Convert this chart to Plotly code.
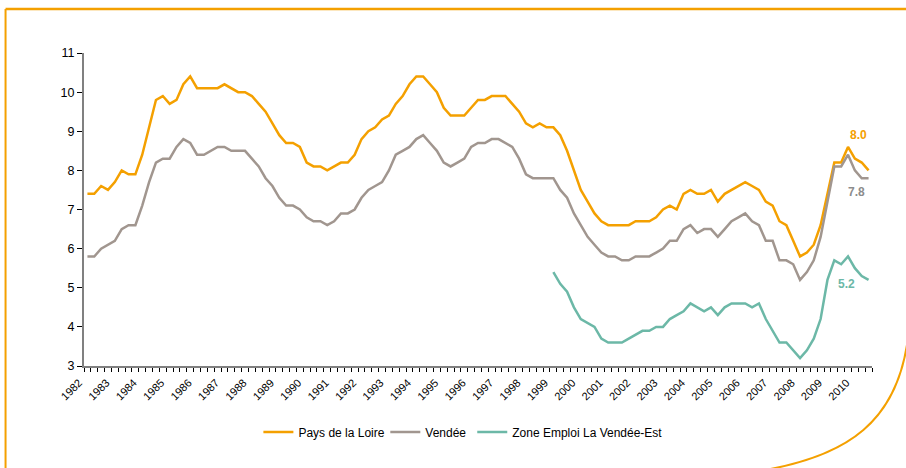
import plotly.graph_objects as go

years = [str(y) for y in range(1982, 2011)]

pays_de_la_loire = [
    7.4, 7.4, 7.6, 7.5, 7.7, 8.0, 7.9, 7.9, 8.4, 9.1, 9.8, 9.9,
    9.7, 9.8, 10.2, 10.4, 10.1, 10.1, 10.1, 10.1, 10.2, 10.1, 10.0, 10.0,
    9.9, 9.7, 9.5, 9.2, 8.9, 8.7, 8.7, 8.6, 8.2, 8.1, 8.1, 8.0,
    8.1, 8.2, 8.2, 8.4, 8.8, 9.0, 9.1, 9.3, 9.4, 9.7, 9.9, 10.2,
    10.4, 10.4, 10.2, 10.0, 9.6, 9.4, 9.4, 9.4, 9.6, 9.8, 9.8, 9.9,
    9.9, 9.9, 9.7, 9.5, 9.2, 9.1, 9.2, 9.1, 9.1, 8.9, 8.5, 8.0,
    7.5, 7.2, 6.9, 6.7, 6.6, 6.6, 6.6, 6.6, 6.7, 6.7, 6.7, 6.8,
    7.0, 7.1, 7.0, 7.4, 7.5, 7.4, 7.4, 7.5, 7.2, 7.4, 7.5, 7.6,
    7.7, 7.6, 7.5, 7.2, 7.1, 6.7, 6.6, 6.2, 5.8, 5.9, 6.1, 6.6,
    7.4, 8.2, 8.2, 8.6, 8.3, 8.2, 8.0,
]

vendee = [
    5.8, 5.8, 6.0, 6.1, 6.2, 6.5, 6.6, 6.6, 7.1, 7.7, 8.2, 8.3,
    8.3, 8.6, 8.8, 8.7, 8.4, 8.4, 8.5, 8.6, 8.6, 8.5, 8.5, 8.5,
    8.3, 8.1, 7.8, 7.6, 7.3, 7.1, 7.1, 7.0, 6.8, 6.7, 6.7, 6.6,
    6.7, 6.9, 6.9, 7.0, 7.3, 7.5, 7.6, 7.7, 8.0, 8.4, 8.5, 8.6,
    8.8, 8.9, 8.7, 8.5, 8.2, 8.1, 8.2, 8.3, 8.6, 8.7, 8.7, 8.8,
    8.8, 8.7, 8.6, 8.3, 7.9, 7.8, 7.8, 7.8, 7.8, 7.5, 7.3, 6.9,
    6.6, 6.3, 6.1, 5.9, 5.8, 5.8, 5.7, 5.7, 5.8, 5.8, 5.8, 5.9,
    6.0, 6.2, 6.2, 6.5, 6.6, 6.4, 6.5, 6.5, 6.3, 6.5, 6.7, 6.8,
    6.9, 6.7, 6.6, 6.2, 6.2, 5.7, 5.7, 5.6, 5.2, 5.4, 5.7, 6.3,
    7.2, 8.1, 8.1, 8.4, 8.0, 7.8, 7.8,
]

zone_vendee_est = [None] * 68 + [
    5.4, 5.1, 4.9, 4.5, 4.2, 4.1, 4.0, 3.7, 3.6, 3.6, 3.6, 3.7,
    3.8, 3.9, 3.9, 4.0, 4.0, 4.2, 4.3, 4.4, 4.6, 4.5, 4.4, 4.5,
    4.3, 4.5, 4.6, 4.6, 4.6, 4.5, 4.6, 4.2, 3.9, 3.6, 3.6, 3.4,
    3.2, 3.4, 3.7, 4.2, 5.2, 5.7, 5.6, 5.8, 5.5, 5.3, 5.2,
]

series_names = ["Pays de la Loire", "Vendée", "Zone Emploi La Vendée-Est"]
colors = ["#F4A000", "#A1968F", "#6CB8A7"]
label_colors = ["#F4A000", "#8C8C8C", "#6CB8A7"]
legend_ids = ["legend", "legend2", "legend3"]

n = len(pays_de_la_loire)
xs = list(range(n))

fig = go.Figure()
for name, ys, c, lg in zip(series_names, [pays_de_la_loire, vendee, zone_vendee_est], colors, legend_ids):
    fig.add_trace(go.Scatter(x=xs, y=ys, mode="lines", name=name, legend=lg,
                             line=dict(color=c, width=2.5), connectgaps=False))

# tick marks at every quarter boundary, year labels every 4
tickvals = [k - 0.5 for k in range(n + 1)]
ticktext = [""] * (n + 1)
for j, yr in enumerate(years):
    ticktext[4 * j] = yr

W, H = 906, 468
L, R, T, B = 83.5, 34, 53, 102
pw, ph = W - L - R, H - T - B

def px(x):
    return (x - L) / pw

def py(y):
    return (H - B - y) / ph

frame = "#F4A000"
shapes = [
    dict(type="line", xref="paper", yref="paper", x0=px(5), x1=px(907), y0=py(9), y1=py(9),
         line=dict(color=frame, width=2.5)),
    dict(type="line", xref="paper", yref="paper", x0=px(5), x1=px(5), y0=py(9), y1=py(470),
         line=dict(color=frame, width=2)),
    dict(type="path", xref="paper", yref="paper",
         path=f"M {px(907)},{py(345)} C {px(895)},{py(420)} {px(850)},{py(455)} {px(765)},{py(470)}",
         line=dict(color=frame, width=2)),
]

ann = []
last_vals = [pays_de_la_loire[-1], vendee[-1], zone_vendee_est[-1]]
ann_pos = [(112.6, 8.9), (112.2, 7.44), (110.8, 5.09)]
for v, (ax, ay), c in zip(last_vals, ann_pos, label_colors):
    ann.append(dict(x=ax, y=ay, xref="x", yref="y", text=f"<b>{v:.1f}</b>", showarrow=False,
                    font=dict(family="Liberation Sans, Arial", size=12, color=c)))

legend_x = [258, 385, 472]
legend_common = dict(orientation="h", yanchor="middle", xanchor="left", y=py(432),
                     font=dict(size=12, color="#000000"), itemwidth=30,
                     bgcolor="rgba(0,0,0,0)")

fig.update_layout(
    width=W, height=H,
    margin=dict(l=L, r=R, t=T, b=B),
    paper_bgcolor="white", plot_bgcolor="white",
    font=dict(family="Liberation Sans, Arial", size=11, color="#000000"),
    showlegend=True,
    legend=dict(x=px(legend_x[0]), **legend_common),
    legend2=dict(x=px(legend_x[1]), **legend_common),
    legend3=dict(x=px(legend_x[2]), **legend_common),
    shapes=shapes,
    annotations=ann,
    xaxis=dict(range=[-0.5, n - 0.5], tickmode="array", tickvals=tickvals, ticktext=ticktext,
               tickangle=-45, ticks="outside", ticklen=4, tickcolor="#000000", tickwidth=1,
               ticklabelshift=-5,
               showline=True, linecolor="#808080", linewidth=2, showgrid=False, zeroline=False,
               tickfont=dict(size=11)),
    yaxis=dict(range=[3, 11], dtick=1, ticks="outside", ticklen=5, tickcolor="#000000",
               showline=True, linecolor="#808080", linewidth=2, showgrid=False, zeroline=False,
               tickfont=dict(size=12.5)),
)

fig.write_html("out.html", config={"displayModeBar": False},
               post_script="document.body.style.margin='0px';")
